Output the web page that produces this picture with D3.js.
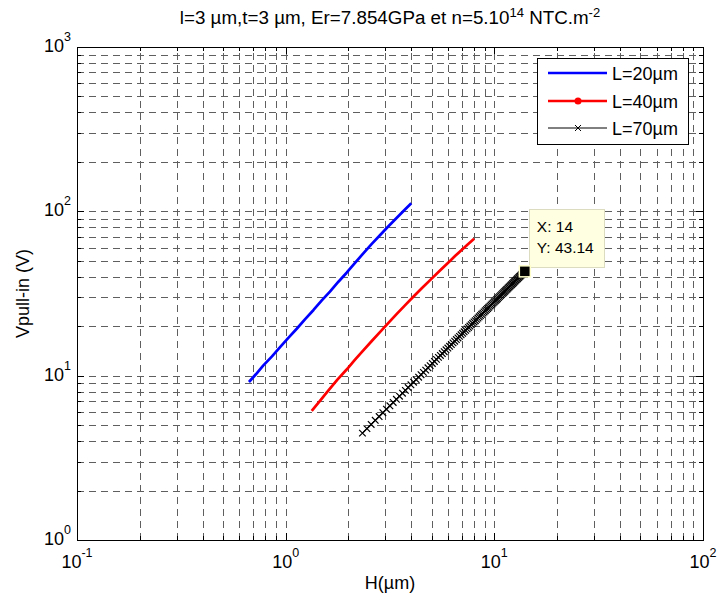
<!DOCTYPE html>
<html><head><meta charset="utf-8">
<script src="https://cdn.jsdelivr.net/npm/d3@7"></script>
<style>
body{margin:0;background:#fff}
svg{display:block}
text{font-family:"Liberation Sans",Arial,Helvetica,sans-serif;fill:#000}
</style>
</head><body>
<svg id="c" width="717" height="596"></svg>
<script>
// ---------- data ----------
const titleParts = ["l=3 µm,t=3 µm, Er=7.854GPa et n=5.10", "14", " NTC.m", "-2"];
const xLabel = "H(µm)";
const yLabel = "Vpull-in (V)";
const xDomain = [0.1, 100];
const yDomain = [1, 1000];
const xTickExp = [-1, 0, 1, 2];
const yTickExp = [0, 1, 2, 3];
const minorMult = [2, 3, 4, 5, 6, 7, 8, 9];
const seriesNames = ["L=20µm", "L=40µm", "L=70µm"];
const seriesColors = ["#0000ff", "#ff0000", "#000000"];

const hL20 = [0.667, 0.72, 0.78, 0.86, 0.94, 1.03, 1.13, 1.24, 1.36, 1.49, 1.63, 1.79, 1.96, 2.15, 2.35, 2.58, 2.83, 3.10, 3.40, 3.70, 4.00];
const vL20 = [9.15, 10.2, 11.5, 13.1, 14.9, 17.0, 19.3, 22.1, 25.1, 28.7, 32.5, 37.3, 42.3, 48.6, 55.3, 63.2, 71.5, 80.8, 91.0, 101.5, 112];

const hL40 = [1.333, 1.45, 1.60, 1.77, 1.96, 2.15, 2.35, 2.58, 2.83, 3.10, 3.40, 3.73, 4.09, 4.49, 4.91, 5.49, 6.13, 6.50, 6.95, 7.45, 8.00];
const vL40 = [6.1, 6.95, 8.1, 9.45, 10.9, 12.5, 14.2, 16.2, 18.4, 20.9, 23.7, 26.8, 30.2, 34.0, 38.0, 43.7, 49.9, 53.6, 57.9, 62.8, 68.0];

const hL70 = [2.3333,2.4512,2.5690,2.6869,2.8047,2.9226,3.0404,3.1582,3.2761,3.3939,
3.5118,3.6296,3.7475,3.8653,3.9832,4.1010,4.2189,4.3367,4.4545,4.5724,
4.6902,4.8081,4.9259,5.0438,5.1616,5.2795,5.3973,5.5152,5.6330,5.7508,
5.8687,5.9865,6.1044,6.2222,6.3401,6.4579,6.5758,6.6936,6.8114,6.9293,
7.0471,7.1650,7.2828,7.4007,7.5185,7.6364,7.7542,7.8721,7.9899,8.1077,
8.2256,8.3434,8.4613,8.5791,8.6970,8.8148,8.9327,9.0505,9.1684,9.2862,
9.4040,9.5219,9.6397,9.7576,9.8754,9.9933,10.1111,10.2290,10.3468,10.4646,
10.5825,10.7003,10.8182,10.9360,11.0539,11.1717,11.2896,11.4074,11.5253,11.6431,
11.7609,11.8788,11.9966,12.1145,12.2323,12.3502,12.4680,12.5859,12.7037,12.8215,
12.9394,13.0572,13.1751,13.2929,13.4108,13.5286,13.6465,13.7643,13.8822,14.0000];
const vL70 = [4.47,4.76,5.05,5.35,5.64,5.95,6.25,6.56,6.87,7.18,
7.50,7.82,8.14,8.47,8.80,9.13,9.46,9.79,10.13,10.47,
10.81,11.16,11.51,11.86,12.21,12.56,12.92,13.28,13.64,14.00,
14.36,14.73,15.09,15.46,15.83,16.21,16.58,16.96,17.34,17.72,
18.10,18.48,18.87,19.26,19.65,20.04,20.43,20.82,21.22,21.61,
22.01,22.41,22.81,23.22,23.62,24.02,24.43,24.84,25.25,25.66,
26.07,26.49,26.90,27.32,27.74,28.16,28.58,29.00,29.42,29.85,
30.27,30.70,31.13,31.56,31.99,32.42,32.86,33.29,33.72,34.16,
34.60,35.04,35.48,35.92,36.36,36.81,37.25,37.70,38.15,38.59,
39.04,39.49,39.94,40.40,40.85,41.30,41.76,42.22,42.68,43.14];

const tipPoint = [14, 43.14];
const tipLines = ["X: 14", "Y: 43.14"];

// ---------- layout ----------
const M = {l: 77, r: 703, t: 47, b: 540};
const FS = 18;
const svg = d3.select("#c");
const x = d3.scaleLog().domain(xDomain).range([M.l, M.r]);
const y = d3.scaleLog().domain(yDomain).range([M.b, M.t]);

const xMajor = xTickExp.map(e => Math.pow(10, e));
const yMajor = yTickExp.map(e => Math.pow(10, e));
const xMinor = [], yMinor = [];
xTickExp.slice(0, -1).forEach(e => minorMult.forEach(k => xMinor.push(k * Math.pow(10, e))));
yTickExp.slice(0, -1).forEach(e => minorMult.forEach(k => yMinor.push(k * Math.pow(10, e))));

// ---------- grid ----------
const grid = svg.append("g").attr("stroke", "#5f5f5f").attr("stroke-width", 1)
  .attr("stroke-dasharray", "7,5").attr("shape-rendering", "crispEdges").attr("fill", "none");
[...xMajor, ...xMinor].forEach(v => {
  const px = Math.round(x(v)) + 0.5;
  grid.append("line").attr("x1", px).attr("x2", px).attr("y1", M.b).attr("y2", M.t);
});
[...yMajor, ...yMinor].forEach(v => {
  const py = Math.round(y(v)) + 0.5;
  grid.append("line").attr("x1", M.l).attr("x2", M.r).attr("y1", py).attr("y2", py);
});

// ---------- axes ticks (inside, all four sides) ----------
function axisG(gen, tx, ty) {
  const g = svg.append("g").attr("transform", `translate(${tx},${ty})`).call(gen);
  g.select(".domain").remove();
  g.selectAll("line").attr("stroke", "#000").attr("shape-rendering", "crispEdges");
  g.selectAll("text").remove();
  return g;
}
[[xMajor, 7], [xMinor, 4]].forEach(([vals, len]) => {
  axisG(d3.axisBottom(x).tickValues(vals).tickSize(-len).tickFormat(""), 0, M.b);
  axisG(d3.axisTop(x).tickValues(vals).tickSize(-len).tickFormat(""), 0, M.t);
});
[[yMajor, 7], [yMinor, 4]].forEach(([vals, len]) => {
  axisG(d3.axisLeft(y).tickValues(vals).tickSize(-len).tickFormat(""), M.l, 0);
  axisG(d3.axisRight(y).tickValues(vals).tickSize(-len).tickFormat(""), M.r, 0);
});

svg.append("rect").attr("x", M.l + 0.5).attr("y", M.t + 0.5)
  .attr("width", M.r - M.l).attr("height", M.b - M.t)
  .attr("fill", "none").attr("stroke", "#000").attr("shape-rendering", "crispEdges");

// ---------- tick labels ----------
xTickExp.forEach((e, i) => {
  const t = svg.append("text").attr("x", x(xMajor[i])).attr("y", M.b + 28)
    .attr("text-anchor", "middle").attr("font-size", FS);
  t.append("tspan").text("10");
  t.append("tspan").attr("dy", -11).attr("font-size", 12.5).text(e);
});
yTickExp.forEach((e, i) => {
  const t = svg.append("text").attr("x", M.l - 6).attr("y", y(yMajor[i]) + 5)
    .attr("text-anchor", "end").attr("font-size", FS);
  t.append("tspan").text("10");
  t.append("tspan").attr("dy", -11).attr("font-size", 12.5).text(e);
});

// ---------- title & axis labels ----------
const tt = svg.append("text").attr("x", (M.l + M.r) / 2).attr("y", 24)
  .attr("text-anchor", "middle").attr("font-size", 18.8);
tt.append("tspan").text(titleParts[0]);
tt.append("tspan").attr("dy", -7).attr("font-size", 13).text(titleParts[1]);
tt.append("tspan").attr("dy", 7).text(titleParts[2]);
tt.append("tspan").attr("dy", -7).attr("font-size", 13).text(titleParts[3]);

svg.append("text").attr("x", (M.l + M.r) / 2).attr("y", 589)
  .attr("text-anchor", "middle").attr("font-size", FS).text(xLabel);
svg.append("text").attr("transform", `translate(29,${(M.t + M.b) / 2}) rotate(-90)`)
  .attr("text-anchor", "middle").attr("font-size", FS).text(yLabel);

// ---------- series ----------
const line = d3.line().x(d => x(d[0])).y(d => y(d[1]));
const plot = svg.append("g");
const s20 = hL20.map((h, i) => [h, vL20[i]]);
const s40 = hL40.map((h, i) => [h, vL40[i]]);
const s70 = hL70.map((h, i) => [h, vL70[i]]);
plot.append("path").datum(s20).attr("d", line).attr("fill", "none")
  .attr("stroke", seriesColors[0]).attr("stroke-width", 2.7).attr("stroke-linejoin", "round");
plot.append("path").datum(s40).attr("d", line).attr("fill", "none")
  .attr("stroke", seriesColors[1]).attr("stroke-width", 2.7).attr("stroke-linejoin", "round");
plot.append("path").datum(s70).attr("d", line).attr("fill", "none")
  .attr("stroke", seriesColors[2]).attr("stroke-width", 1.2);
const xMark = "M-3.3,-3.3L3.3,3.3M-3.3,3.3L3.3,-3.3";
plot.selectAll(".xm").data(s70).enter().append("path")
  .attr("transform", d => `translate(${x(d[0])},${y(d[1])})`)
  .attr("d", xMark).attr("stroke", "#000").attr("stroke-width", 1.2).attr("fill", "none");

// ---------- legend ----------
const lg = svg.append("g");
lg.append("rect").attr("x", 537.5).attr("y", 58.5).attr("width", 151).attr("height", 86)
  .attr("fill", "#fff").attr("stroke", "#000").attr("shape-rendering", "crispEdges");
const legY = [73, 101, 128];
seriesNames.forEach((nm, i) => {
  lg.append("line").attr("x1", 548).attr("x2", 607).attr("y1", legY[i]).attr("y2", legY[i])
    .attr("stroke", seriesColors[i]).attr("stroke-width", i < 2 ? 2.7 : 1);
  lg.append("text").attr("x", 612).attr("y", legY[i] + 6.5).attr("font-size", FS).text(nm);
});
lg.append("circle").attr("cx", 578).attr("cy", legY[1]).attr("r", 3.5).attr("fill", seriesColors[1]);
lg.append("path").attr("transform", `translate(578,${legY[2]})`).attr("d", "M-3,-3L3,3M-3,3L3,-3")
  .attr("stroke", "#000").attr("fill", "none");

// ---------- data tip ----------
const tpx = x(tipPoint[0]), tpy = y(tipPoint[1]);
const tip = svg.append("g");
tip.append("rect").attr("x", Math.round(tpx) + 4.5).attr("y", Math.round(tpy) - 61.5)
  .attr("width", 75).attr("height", 58).attr("fill", "#ffffe1").attr("stroke", "#dcdcc0");
tipLines.forEach((s, i) => {
  tip.append("text").attr("x", tpx + 12).attr("y", tpy - 39 + i * 21)
    .attr("font-size", 15.5).text(s);
});
tip.append("rect").attr("x", tpx - 5.5).attr("y", tpy - 5.5).attr("width", 11).attr("height", 11)
  .attr("fill", "#000").attr("stroke", "#ffffcc").attr("stroke-width", 1.5);
</script>
</body></html>
